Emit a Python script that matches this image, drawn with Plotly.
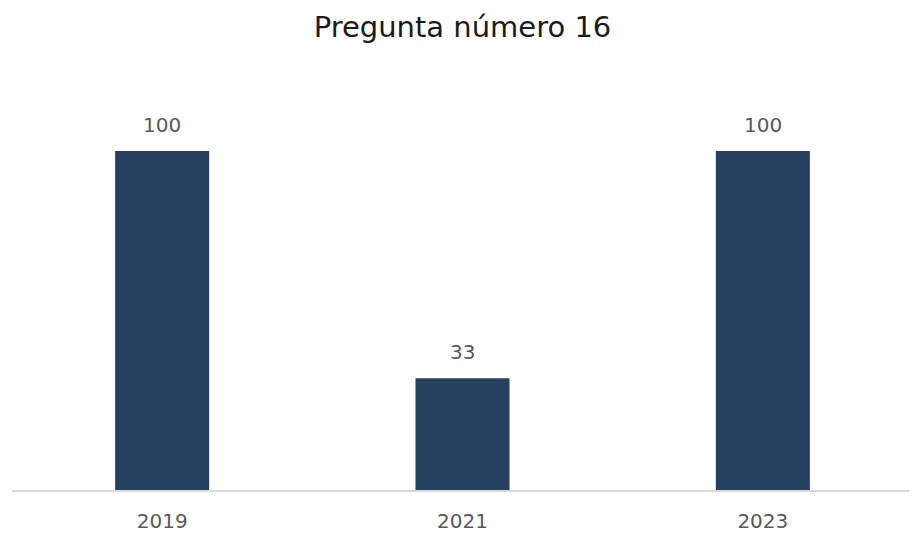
import plotly.graph_objects as go

categories = ["2019", "2021", "2023"]
values = [100, 33, 100]

FONT = "DejaVu Sans"

fig = go.Figure(
    go.Bar(
        x=categories,
        y=values,
        marker=dict(color="#253f5e", line=dict(width=0)),
        showlegend=False,
    )
)

for i, v in enumerate(values):
    fig.add_annotation(
        x=i,
        y=v,
        xref="x",
        yref="y",
        text=str(v),
        showarrow=False,
        yanchor="bottom",
        yshift=12,
        font=dict(size=20, color="#595959", family=FONT),
    )

# The page body has an 8px margin; figure sized to fit the 917x533 window.
fig.update_layout(
    width=909,
    height=525,
    paper_bgcolor="white",
    plot_bgcolor="white",
    font=dict(family=FONT, color="#595959"),
    title=dict(
        text="Pregunta número 16",
        x=0.5,
        xanchor="center",
        xref="paper",
        y=1 - 19 / 525,
        yanchor="middle",
        yref="container",
        font=dict(size=29, color="#1a1a1a", family=FONT),
    ),
    margin=dict(l=4, r=4, t=72, b=43),
    bargap=0.687,
    showlegend=False,
)

fig.update_xaxes(
    type="category",
    range=[-0.5, len(categories) - 0.5],
    automargin=False,
    showline=True,
    linecolor="#d9d9d9",
    linewidth=2,
    ticks="",
    showgrid=False,
    tickfont=dict(size=20, color="#595959", family=FONT),
    ticklabelstandoff=12,
)
fig.update_yaxes(
    range=[0, 120.94],
    visible=False,
    showgrid=False,
    zeroline=False,
)

fig.write_html("out.html")
